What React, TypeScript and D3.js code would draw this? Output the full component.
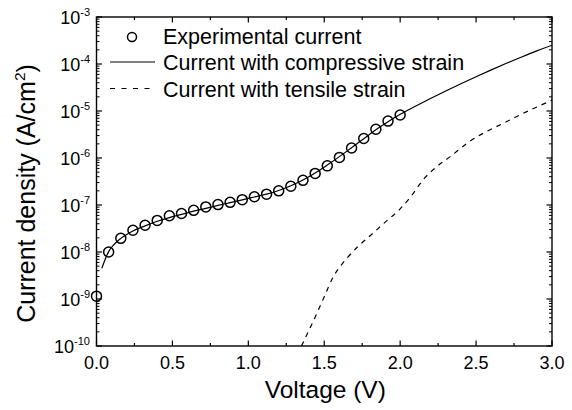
import React from "react";
import * as d3 from "d3";

// Experimental current (circles)
const expVoltage = [0, 0.08, 0.16, 0.24, 0.32, 0.4, 0.48, 0.56, 0.64, 0.72, 0.8, 0.88, 0.96, 1.04, 1.12, 1.2, 1.28, 1.36, 1.44, 1.52, 1.6, 1.68, 1.76, 1.84, 1.92, 2.0];
const expCurrent = [1.15e-9, 1.0e-8, 1.95e-8, 2.9e-8, 3.7e-8, 4.7e-8, 5.9e-8, 6.6e-8, 7.7e-8, 9.1e-8, 1.02e-7, 1.14e-7, 1.3e-7, 1.5e-7, 1.7e-7, 2.0e-7, 2.5e-7, 3.35e-7, 4.7e-7, 6.8e-7, 1.03e-6, 1.63e-6, 2.6e-6, 4.1e-6, 6.1e-6, 8.2e-6];

// Current with compressive strain (solid)
const compVoltage = [0.035, 0.06, 0.08, 0.12, 0.16, 0.24, 0.32, 0.4, 0.48, 0.56, 0.64, 0.72, 0.8, 0.88, 0.96, 1.04, 1.12, 1.2, 1.28, 1.36, 1.44, 1.52, 1.6, 1.68, 1.76, 1.84, 1.92, 2.0, 2.1, 2.2, 2.3, 2.4, 2.5, 2.6, 2.7, 2.8, 2.9, 3.0];
const compCurrent = [4.5e-9, 7.4e-9, 1.02e-8, 1.5e-8, 1.95e-8, 2.8e-8, 3.6e-8, 4.5e-8, 5.4e-8, 6.3e-8, 7.4e-8, 8.5e-8, 9.8e-8, 1.12e-7, 1.29e-7, 1.48e-7, 1.7e-7, 2.04e-7, 2.57e-7, 3.4e-7, 4.8e-7, 7.1e-7, 1.07e-6, 1.66e-6, 2.57e-6, 3.98e-6, 5.9e-6, 8.5e-6, 1.26e-5, 1.84e-5, 2.66e-5, 3.8e-5, 5.37e-5, 7.5e-5, 1.035e-4, 1.41e-4, 1.9e-4, 2.51e-4];

// Current with tensile strain (dashed)
const tensVoltage = [1.35, 1.43, 1.5, 1.56, 1.6, 1.64, 1.72, 1.8, 1.89, 2.0, 2.07, 2.15, 2.24, 2.33, 2.44, 2.55, 2.68, 2.81, 3.0];
const tensCurrent = [1.0e-10, 3.5e-10, 1.12e-9, 3.0e-9, 4.7e-9, 6.8e-9, 1.29e-8, 2.19e-8, 4.0e-8, 8.3e-8, 1.5e-7, 3.4e-7, 6.5e-7, 1.07e-6, 2.05e-6, 3.4e-6, 5.5e-6, 8.9e-6, 1.7e-5];

const xTicks = [0, 0.5, 1.0, 1.5, 2.0, 2.5, 3.0];
const xMinorTicks = [0.25, 0.75, 1.25, 1.75, 2.25, 2.75];
const yExponents = [-10, -9, -8, -7, -6, -5, -4, -3];

const legendLabels = ["Experimental current", "Current with compressive strain", "Current with tensile strain"];

const W = 572;
const H = 410;
const left = 96.5;
const right = 552;
const top = 17;
const bottom = 346;
const FONT = "'Liberation Sans', Arial, Helvetica, sans-serif";

export default function App() {
  const x = d3.scaleLinear().domain([0, 3]).range([left, right]);
  const y = d3.scaleLog().domain([1e-10, 1e-3]).range([bottom, top]);

  const line = d3
    .line<[number, number]>()
    .x((d) => x(d[0]))
    .y((d) => y(d[1]))
    .curve(d3.curveMonotoneX);

  const compPts = compVoltage.map((v, i) => [v, compCurrent[i]] as [number, number]);
  const tensPts = tensVoltage.map((v, i) => [v, tensCurrent[i]] as [number, number]);

  const yMinor: number[] = [];
  for (let e = -10; e < -3; e++) {
    for (let m = 2; m <= 9; m++) yMinor.push(m * Math.pow(10, e));
  }

  const majorLen = 5.5;
  const minorLen = 3;

  return (
    <svg
      width={W}
      height={H}
      style={{ position: "absolute", left: 0, top: 0, background: "#fff" }}
      fontFamily={FONT}
    >
      <defs>
        <clipPath id="plotclip">
          <rect x={left} y={top} width={right - left} height={bottom - top} />
        </clipPath>
      </defs>
      <rect x={0} y={0} width={W} height={H} fill="#fff" />

      {/* curves */}
      <g clipPath="url(#plotclip)">
        <path d={line(compPts) || ""} fill="none" stroke="#000" strokeWidth={1.2} />
        <path d={line(tensPts) || ""} fill="none" stroke="#000" strokeWidth={1.2} strokeDasharray="5,5" />
      </g>

      {/* experimental circles */}
      {expVoltage.map((v, i) => (
        <circle key={i} cx={x(v)} cy={y(expCurrent[i])} r={5} fill="none" stroke="#000" strokeWidth={1.5} />
      ))}

      {/* frame */}
      <rect x={left} y={top} width={right - left} height={bottom - top} fill="none" stroke="#000" strokeWidth={1.4} />

      {/* x ticks */}
      {xTicks.map((t) => (
        <g key={"xt" + t}>
          <line x1={x(t)} x2={x(t)} y1={bottom} y2={bottom - majorLen} stroke="#000" strokeWidth={1.2} />
          <line x1={x(t)} x2={x(t)} y1={top} y2={top + majorLen} stroke="#000" strokeWidth={1.2} />
          <text x={x(t)} y={368.5} textAnchor="middle" fontSize={18} fill="#000">
            {t.toFixed(1)}
          </text>
        </g>
      ))}
      {xMinorTicks.map((t) => (
        <g key={"xm" + t}>
          <line x1={x(t)} x2={x(t)} y1={bottom} y2={bottom - minorLen} stroke="#000" strokeWidth={1.2} />
          <line x1={x(t)} x2={x(t)} y1={top} y2={top + minorLen} stroke="#000" strokeWidth={1.2} />
        </g>
      ))}

      {/* y ticks */}
      {yExponents.map((e) => {
        const yy = y(Math.pow(10, e));
        return (
          <g key={"yt" + e}>
            <line x1={left} x2={left + majorLen} y1={yy} y2={yy} stroke="#000" strokeWidth={1.2} />
            <line x1={right} x2={right - majorLen} y1={yy} y2={yy} stroke="#000" strokeWidth={1.2} />
            <text x={90} y={yy + 7} textAnchor="end" fill="#000">
              <tspan fontSize={18}>10</tspan>
              <tspan fontSize={11} dy={-8}>{String(e)}</tspan>
            </text>
          </g>
        );
      })}
      {yMinor.map((v, i) => {
        const yy = y(v);
        return (
          <g key={"ym" + i}>
            <line x1={left} x2={left + minorLen} y1={yy} y2={yy} stroke="#000" strokeWidth={1} />
            <line x1={right} x2={right - minorLen} y1={yy} y2={yy} stroke="#000" strokeWidth={1} />
          </g>
        );
      })}

      {/* axis titles */}
      <text x={(left + right) / 2 + 1} y={398} textAnchor="middle" fontSize={24.5} fill="#000">
        Voltage (V)
      </text>
      <text transform={`translate(35, ${(top + bottom) / 2 + 12}) rotate(-90)`} textAnchor="middle" fontSize={25} fill="#000">
        Current density (A/cm
        <tspan fontSize={15.5} dy={-10}>2</tspan>
        <tspan dy={10}>)</tspan>
      </text>

      {/* legend */}
      <circle cx={132} cy={37} r={4.5} fill="none" stroke="#000" strokeWidth={1.5} />
      <line x1={110} x2={155} y1={62} y2={62} stroke="#000" strokeWidth={1.2} />
      <line x1={110} x2={155} y1={88.5} y2={88.5} stroke="#000" strokeWidth={1.2} strokeDasharray="5,6.5" />
      {legendLabels.map((l, i) => (
        <text key={l} x={163} y={44 + i * 26.3} fontSize={21.5} fill="#000">
          {l}
        </text>
      ))}
    </svg>
  );
}
